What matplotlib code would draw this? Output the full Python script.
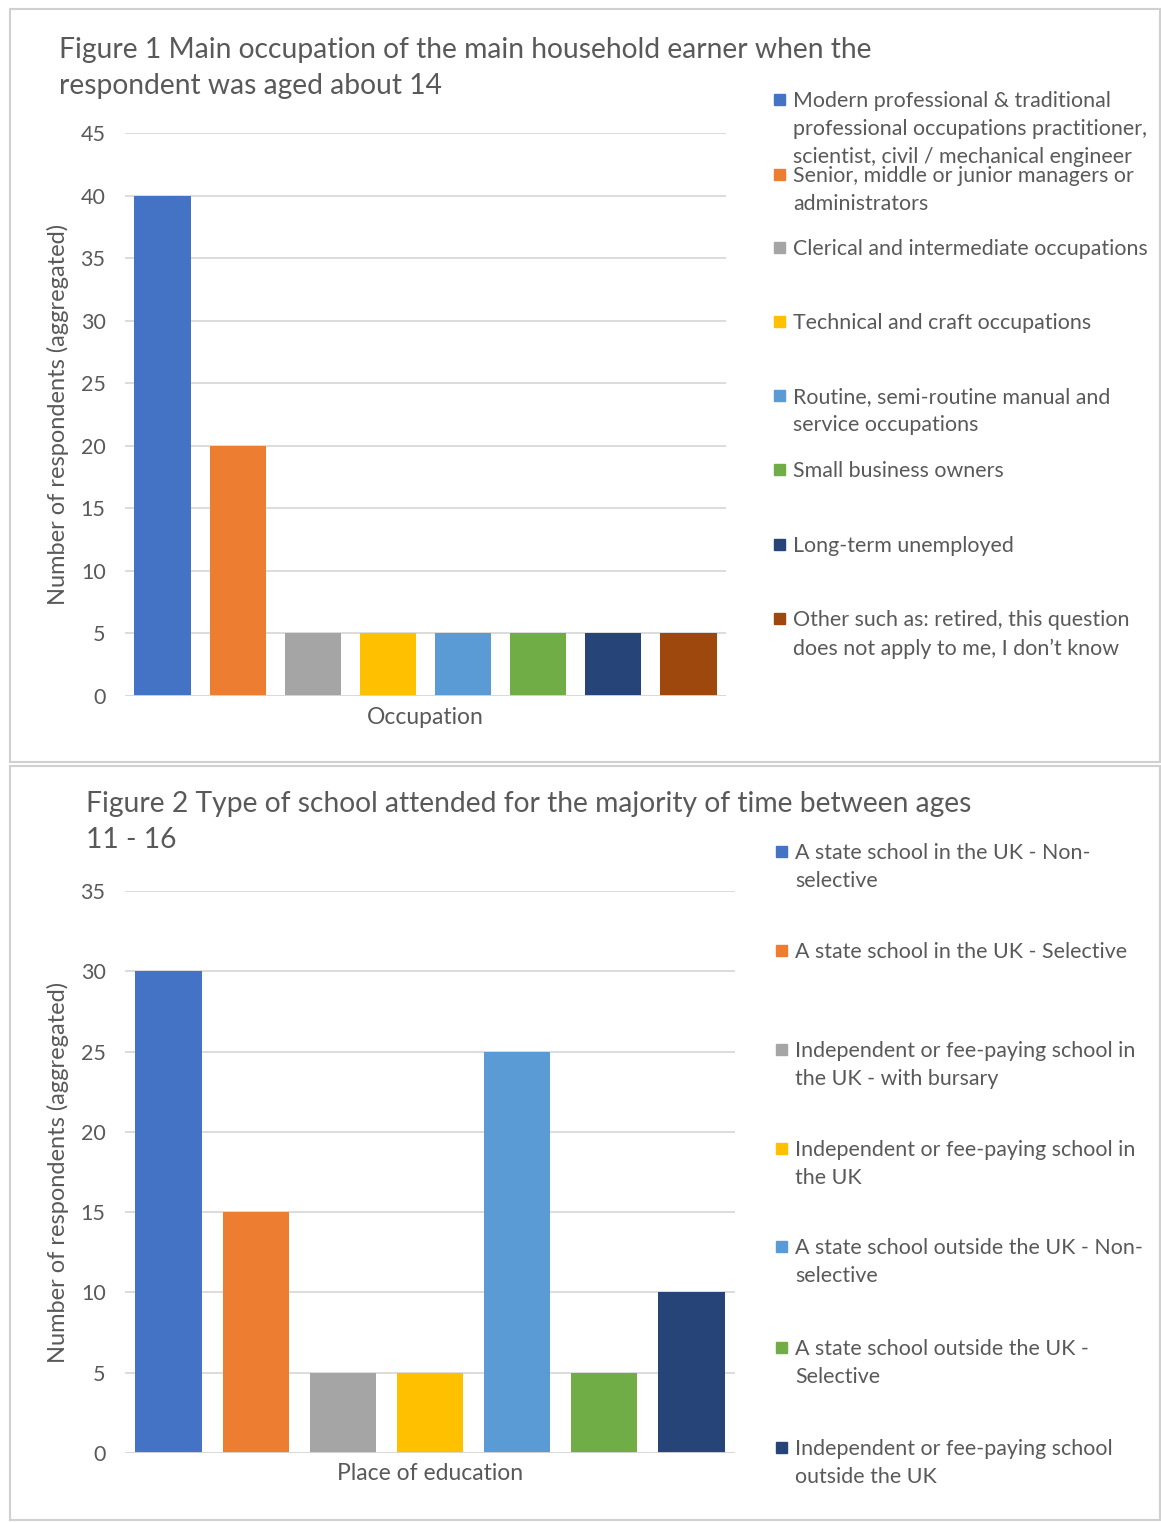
import matplotlib.pyplot as plt
import numpy as np
from matplotlib.patches import Rectangle

plt.rcParams['font.family'] = ['Lato', 'DejaVu Sans']

W, H = 1161, 1522

# data
occ_labels = ['Modern professional & traditional\nprofessional occupations practitioner,\nscientist, civil / mechanical engineer',
              'Senior, middle or junior managers or\nadministrators',
              'Clerical and intermediate occupations',
              'Technical and craft occupations',
              'Routine, semi-routine manual and\nservice occupations',
              'Small business owners',
              'Long-term unemployed',
              'Other such as: retired, this question\ndoes not apply to me, I don\u2019t know']
occ_values = [40, 20, 5, 5, 5, 5, 5, 5]
occ_colors = ['#4472C4', '#ED7D31', '#A5A5A5', '#FFC000', '#5B9BD5', '#70AD47', '#264478', '#9E480E']

school_labels = ['A state school in the UK - Non-\nselective',
                 'A state school in the UK - Selective',
                 'Independent or fee-paying school in\nthe UK - with bursary',
                 'Independent or fee-paying school in\nthe UK',
                 'A state school outside the UK - Non-\nselective',
                 'A state school outside the UK -\nSelective',
                 'Independent or fee-paying school\noutside the UK']
school_values = [30, 15, 5, 5, 25, 5, 10]
school_colors = occ_colors[:7]

txt = '#595959'
grid = '#D9D9D9'


def fx(x):
    return x / W


def fy(y):
    return 1 - y / H


fig = plt.figure(figsize=(W / 100, H / 100), dpi=100)

# panel borders
for top, bot in [(9, 762), (766, 1520)]:
    fig.patches.append(Rectangle((fx(10), fy(bot)), fx(1160) - fx(10), fy(top) - fy(bot),
                                 transform=fig.transFigure, fill=False, ec='#D0D0D0', lw=1.5))


def panel(left, right, y0, ytop, ymax, values, colors, title, xlabel,
          title_x, title_y, xlabel_y, bar_w):
    ax = fig.add_axes([fx(left), fy(y0), fx(right) - fx(left), fy(ytop) - fy(y0)])
    n = len(values)
    ax.bar(np.arange(n), values, width=bar_w, color=colors, zorder=3)
    ax.set_xlim(-0.5, n - 0.5)
    ax.set_ylim(0, ymax)
    ax.set_yticks(np.arange(0, ymax + 1, 5))
    ax.yaxis.grid(True, color=grid, lw=1.3, zorder=0)
    ax.set_xticks([])
    for s in ax.spines.values():
        s.set_visible(False)
    ax.tick_params(axis='y', length=0, labelsize=15.5, labelcolor=txt, pad=14)
    ax.axhline(0, color=grid, lw=1.3, zorder=4)
    fig.text(fx(58), (fy(y0) + fy(ytop)) / 2, 'Number of respondents (aggregated)', rotation=90,
             ha='center', va='center', fontsize=17, color=txt)
    fig.text(fx((left + right) / 2), fy(xlabel_y), xlabel, ha='center', va='center',
             fontsize=16.5, color=txt)
    # title lines drawn one by one
    for k, line in enumerate(title):
        fig.text(fx(title_x), fy(title_y + 36 * k), line, ha='left', va='top',
                 fontsize=20.3, color=txt)
    return ax


def legend(labels, colors, x, starts):
    for lab, c, yy in zip(labels, colors, starts):
        fig.patches.append(Rectangle((fx(x - 5), fy(yy + 5)), 11 / W, 11 / H,
                                     transform=fig.transFigure, color=c))
        fig.text(fx(x + 14), fy(yy - 9), lab, ha='left', va='top', fontsize=15.4,
                 color=txt, linespacing=1.5)


ax1 = panel(125, 726, 696, 133, 45, occ_values, occ_colors,
            ['Figure 1 Main occupation of the main household earner when the',
             'respondent was aged about 14'],
            'Occupation', 59, 37, 718, 0.75)
ax2 = panel(125, 735, 1453, 891, 35, school_values, school_colors,
            ['Figure 2 Type of school attended for the majority of time between ages',
             '11 - 16'],
            'Place of education', 86, 791, 1474, 0.76)

legend(occ_labels, occ_colors, 779, [100, 175, 248, 322, 396, 470, 545, 619])
legend(school_labels, school_colors, 781, [852, 951, 1050, 1149, 1247, 1348, 1448])

fig.savefig('out.png', dpi=100)
